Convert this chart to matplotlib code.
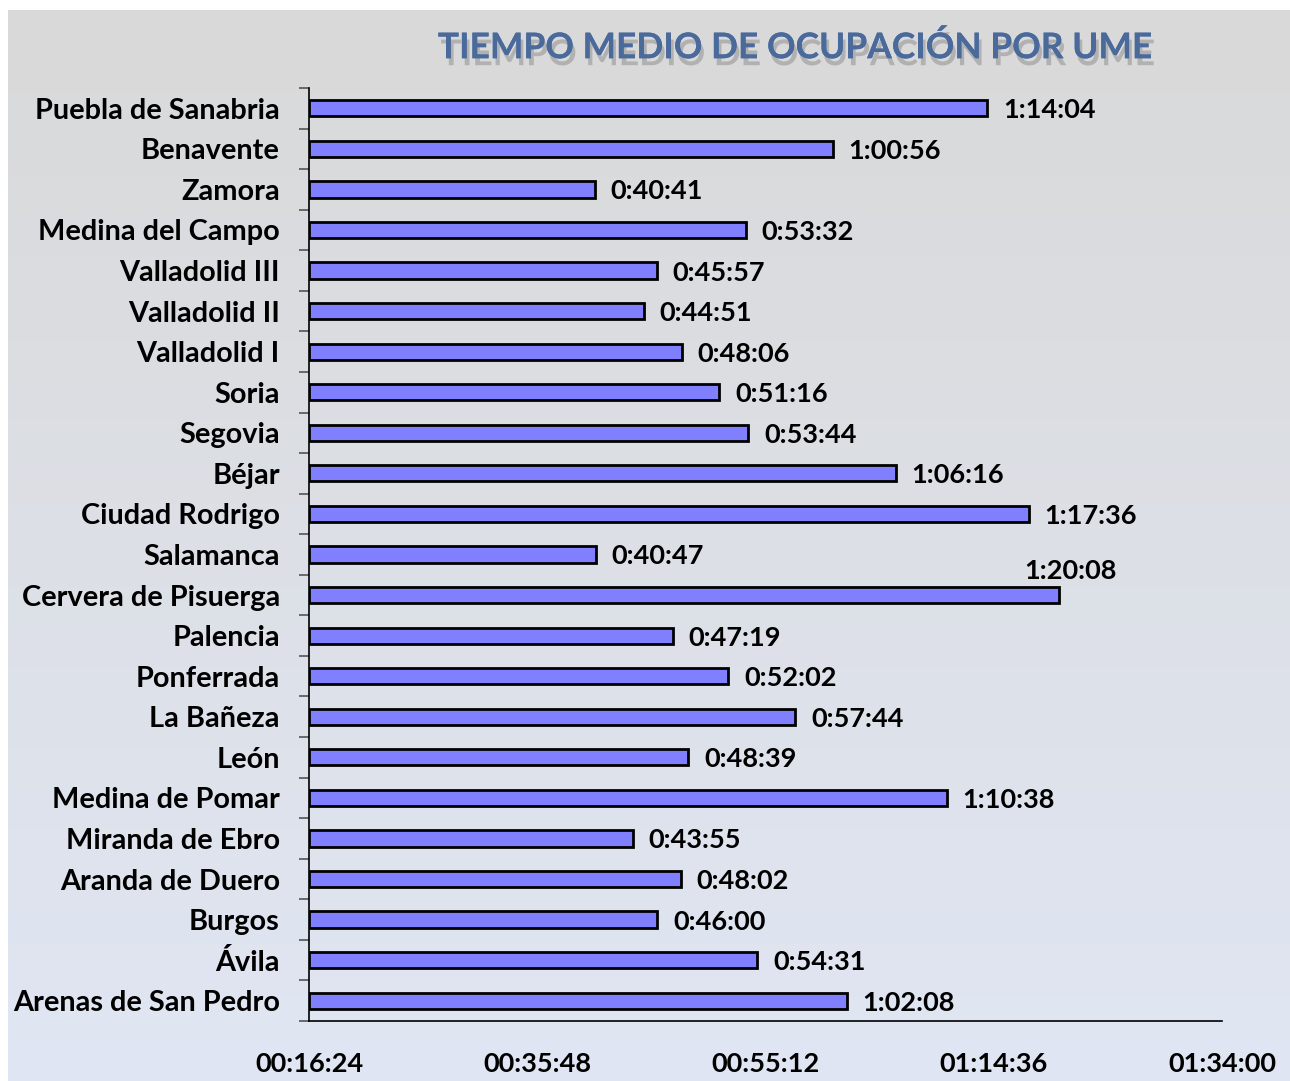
import numpy as np
import matplotlib.pyplot as plt
import matplotlib.patheffects as pe

# data (top to bottom as in the chart)
centros = ["Puebla de Sanabria", "Benavente", "Zamora", "Medina del Campo",
           "Valladolid III", "Valladolid II", "Valladolid I", "Soria", "Segovia",
           "Béjar", "Ciudad Rodrigo", "Salamanca", "Cervera de Pisuerga",
           "Palencia", "Ponferrada", "La Bañeza", "León", "Medina de Pomar",
           "Miranda de Ebro", "Aranda de Duero", "Burgos", "Ávila",
           "Arenas de San Pedro"]
tiempos = ["1:14:04", "1:00:56", "0:40:41", "0:53:32", "0:45:57", "0:44:51",
           "0:48:06", "0:51:16", "0:53:44", "1:06:16", "1:17:36", "0:40:47",
           "1:20:08", "0:47:19", "0:52:02", "0:57:44", "0:48:39", "1:10:38",
           "0:43:55", "0:48:02", "0:46:00", "0:54:31", "1:02:08"]
xticks_lbl = ["00:16:24", "00:35:48", "00:55:12", "01:14:36", "01:34:00"]


def secs(s):
    h, m, x = [int(v) for v in s.split(":")]
    return h * 3600 + m * 60 + x


vals = np.array([secs(t) for t in tiempos])
xt = np.array([secs(t) for t in xticks_lbl])
x0, x1 = xt[0], xt[-1]

FONT = "Lato"
FS = 19.5

fig = plt.figure(figsize=(12.9, 10.81), dpi=100)
fig.patch.set_facecolor("white")

# background gradient panel
bg = fig.add_axes([8 / 1290, 0, 1 - 8 / 1290, 1 - 10 / 1081], zorder=-10)
top = np.array([0.851, 0.851, 0.851])
bot = np.array([0.878, 0.902, 0.953])
t = np.linspace(0, 1, 256)[:, None]
grad = top[None, :] * (1 - t) + bot[None, :] * t
bg.imshow(grad[:, None, :], aspect="auto", extent=[0, 1, 0, 1])
bg.axis("off")

ax = fig.add_axes([309 / 1290, 1 - 1021 / 1081, 913 / 1290, 933 / 1081])
ax.set_facecolor("none")

y = np.arange(len(centros))
ax.barh(y, vals - x0, left=x0, height=0.4, color="#8080ff",
        edgecolor="black", linewidth=2)
ax.set_ylim(len(centros) - 0.5, -0.5)
ax.set_xlim(x0, x1)

for i, (v, lbl) in enumerate(zip(vals, tiempos)):
    if centros[i] == "Cervera de Pisuerga":
        ax.text(v + 60, i - 0.65, lbl, ha="center", va="center_baseline",
                fontsize=FS, fontweight="bold", family=FONT)
    else:
        ax.text(v + 80, i, lbl, ha="left", va="center_baseline",
                fontsize=FS, fontweight="bold", family=FONT)

ax.set_yticks(y)
ax.set_yticklabels(centros, fontsize=20.8, fontweight="bold", family=FONT)
ax.set_yticks(np.arange(len(centros) + 1) - 0.5, minor=True)
ax.tick_params(axis="y", which="major", length=0, pad=21)
ax.tick_params(axis="y", which="minor", length=7, color="#555555", width=1.2)

ax.set_xticks(xt)
ax.set_xticklabels(xticks_lbl, fontsize=FS, fontweight="bold", family=FONT)
ax.tick_params(axis="x", length=0, pad=22)

ax.spines["top"].set_visible(False)
ax.spines["right"].set_visible(False)
ax.spines["left"].set_linewidth(1.2)
ax.spines["bottom"].set_linewidth(1.2)

fig.text(795 / 1290, 1 - 48 / 1081, "TIEMPO MEDIO DE OCUPACIÓN POR UME",
         ha="center", va="center", fontsize=25.5, fontweight="bold",
         family=FONT, color="#4a6a9c",
         path_effects=[pe.withSimplePatchShadow(offset=(2, -5), alpha=0.3,
                                                shadow_rgbFace="#555555"),
                       pe.Normal()])

fig.savefig("out.png", dpi=100)
